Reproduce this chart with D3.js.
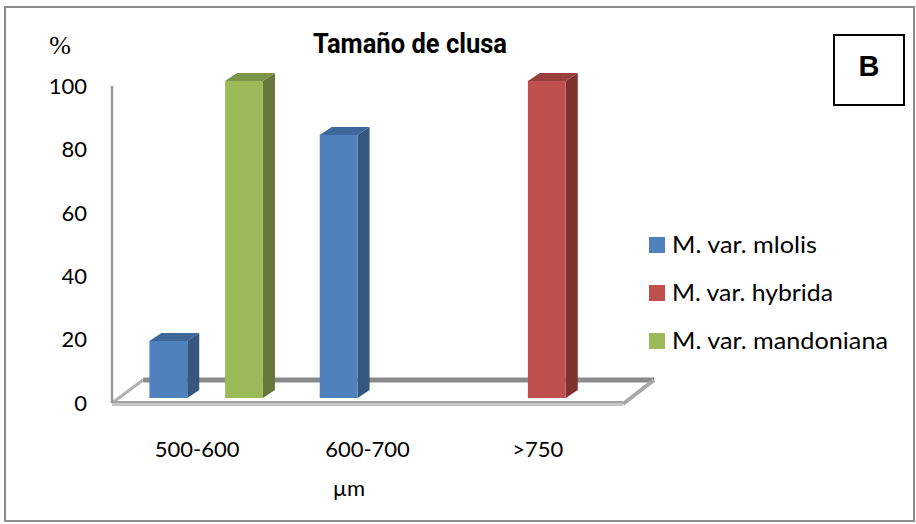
<!DOCTYPE html>
<html>
<head>
<meta charset="utf-8">
<script src="https://cdn.jsdelivr.net/npm/d3@7"></script>
<style>
  html, body { margin: 0; padding: 0; background: #fff; }
  svg { display: block; }
</style>
</head>
<body>
<svg id="chart" width="916" height="524"></svg>
<script>
// Cluster size categories (µm) and percentage per variety
const categories = ["500-600", "600-700", ">750"];
const seriesNames = ["M. var. mlolis", "M. var. hybrida", "M. var. mandoniana"];
const mlolis = [18, 83, 0];
const hybrida = [0, 0, 100];
const mandoniana = [100, 0, 0];
const yTicks = [0, 20, 40, 60, 80, 100];

const seriesValues = [mlolis, hybrida, mandoniana];
const palette = {
  "M. var. mlolis":     { front: "#4F81BD", side: "#35577F", top: "#3E6799" },
  "M. var. hybrida":    { front: "#C0504D", side: "#7E3331", top: "#983F3C" },
  "M. var. mandoniana": { front: "#9BBB59", side: "#66793A", top: "#7B9548" }
};

const svg = d3.select("#chart");
const font = "Lato, 'Open Sans', sans-serif";

// outer frame
svg.append("rect")
  .attr("x", 5).attr("y", 7).attr("width", 909).attr("height", 514)
  .attr("fill", "#fff").attr("stroke", "#8c8c8c").attr("stroke-width", 2);

// plot geometry (front plane of the 3D floor)
const left = 112, right = 623, baseY = 403, topY = 86;
const depth = { dx: 31, dy: -23 };       // full floor depth offset
const barFront = { dx: 9, dy: -5 };      // offset of bar front faces
const barDepth = { dx: 12, dy: -8 };     // bar thickness offset

const x = d3.scaleBand().domain(categories).range([left, right]).padding(0);
const xs = d3.scaleBand().domain(seriesNames).range([0, x.bandwidth()])
  .paddingInner(0).paddingOuter(0.75);
const y = d3.scaleLinear().domain([0, 100]).range([baseY, topY]);

// floor
const floor = svg.append("g");
floor.append("line")
  .attr("x1", left + depth.dx).attr("x2", right + depth.dx)
  .attr("y1", baseY + depth.dy).attr("y2", baseY + depth.dy)
  .attr("stroke", "#8a8a8a").attr("stroke-width", 5);
floor.append("line")
  .attr("x1", left).attr("x2", left + depth.dx)
  .attr("y1", baseY).attr("y2", baseY + depth.dy)
  .attr("stroke", "#b0b0b0").attr("stroke-width", 3);
floor.append("line")
  .attr("x1", right).attr("x2", right + depth.dx)
  .attr("y1", baseY + 1).attr("y2", baseY + depth.dy)
  .attr("stroke", "#a8a8a8").attr("stroke-width", 4);
floor.append("line")
  .attr("x1", left).attr("x2", right)
  .attr("y1", baseY - 1).attr("y2", baseY - 1)
  .attr("stroke", "#a4a4a4").attr("stroke-width", 2);
floor.append("line")
  .attr("x1", left).attr("x2", right)
  .attr("y1", baseY + 1.5).attr("y2", baseY + 1.5)
  .attr("stroke", "#c6c6c6").attr("stroke-width", 3);

// vertical axis line
svg.append("line")
  .attr("x1", left).attr("x2", left)
  .attr("y1", y(100)).attr("y2", baseY)
  .attr("stroke", "#9a9a9a").attr("stroke-width", 2.5);

// bars
const bars = [];
seriesNames.forEach((s, si) => {
  categories.forEach((c, ci) => {
    const v = seriesValues[si][ci];
    if (v > 0) bars.push({ series: s, cat: c, value: v });
  });
});

const gBars = svg.append("g");
bars.forEach(d => {
  const x0 = x(d.cat) + xs(d.series) + barFront.dx;
  const x1 = x0 + xs.bandwidth();
  const yb = y(0) + barFront.dy;
  const yt = y(d.value) + barFront.dy;
  const c = palette[d.series];
  const pts = a => a.map(p => p.join(",")).join(" ");
  gBars.append("polygon")
    .attr("points", pts([[x1, yt], [x1 + barDepth.dx, yt + barDepth.dy],
      [x1 + barDepth.dx, yb + barDepth.dy], [x1, yb]]))
    .attr("fill", c.side);
  gBars.append("polygon")
    .attr("points", pts([[x0, yt], [x1, yt], [x1 + barDepth.dx, yt + barDepth.dy],
      [x0 + barDepth.dx, yt + barDepth.dy]]))
    .attr("fill", c.top);
  gBars.append("rect")
    .attr("x", x0).attr("y", yt).attr("width", x1 - x0).attr("height", yb - yt)
    .attr("fill", c.front);
});

// y tick labels
svg.append("g").selectAll("text").data(yTicks).join("text")
  .attr("x", 87).attr("y", d => y(d)).attr("dy", "0.35em")
  .attr("text-anchor", "end")
  .attr("font-family", font).attr("font-size", 22).attr("fill", "#000")
  .text(d => d);

// category labels
svg.append("g").selectAll("text").data(categories).join("text")
  .attr("x", d => x(d) + x.bandwidth() / 2).attr("y", 449).attr("dy", "0.35em")
  .attr("text-anchor", "middle")
  .attr("font-family", font).attr("font-size", 22).attr("fill", "#000")
  .text(d => d);

// axis titles
svg.append("text")
  .attr("x", 349).attr("y", 488).attr("dy", "0.35em").attr("text-anchor", "middle")
  .attr("font-family", font).attr("font-size", 22).text("µm");
svg.append("text")
  .attr("x", 60).attr("y", 54).attr("text-anchor", "middle")
  .attr("font-family", "'Liberation Serif', 'Times New Roman', serif")
  .attr("font-size", 26).text("%");

// chart title
svg.append("text")
  .attr("x", 410).attr("y", 53).attr("text-anchor", "middle")
  .attr("font-family", "'Liberation Sans Narrow', 'Arial Narrow', Roboto, sans-serif")
  .attr("font-weight", "bold").attr("font-size", 27)
  .attr("textLength", 194).attr("lengthAdjust", "spacingAndGlyphs")
  .text("Tamaño de clusa");

// panel letter
svg.append("rect")
  .attr("x", 834).attr("y", 35).attr("width", 70).attr("height", 70)
  .attr("fill", "none").attr("stroke", "#000").attr("stroke-width", 2);
svg.append("text")
  .attr("x", 869).attr("y", 76).attr("text-anchor", "middle")
  .attr("font-family", "'Liberation Sans', Arial, sans-serif")
  .attr("font-weight", "bold").attr("font-size", 29).text("B");

// legend
const legendWidths = [145, 161, 216];
const legend = svg.append("g").selectAll("g").data(seriesNames).join("g")
  .attr("transform", (d, i) => `translate(649, ${245 + i * 48})`);
legend.append("rect")
  .attr("x", 0).attr("y", -8).attr("width", 16).attr("height", 16)
  .attr("fill", d => palette[d].front);
legend.append("text")
  .attr("x", 23).attr("y", 0).attr("dy", "0.35em")
  .attr("font-family", font).attr("font-size", 23).attr("fill", "#000")
  .attr("textLength", (d, i) => legendWidths[i])
  .attr("lengthAdjust", "spacingAndGlyphs")
  .text(d => d);
</script>
</body>
</html>
